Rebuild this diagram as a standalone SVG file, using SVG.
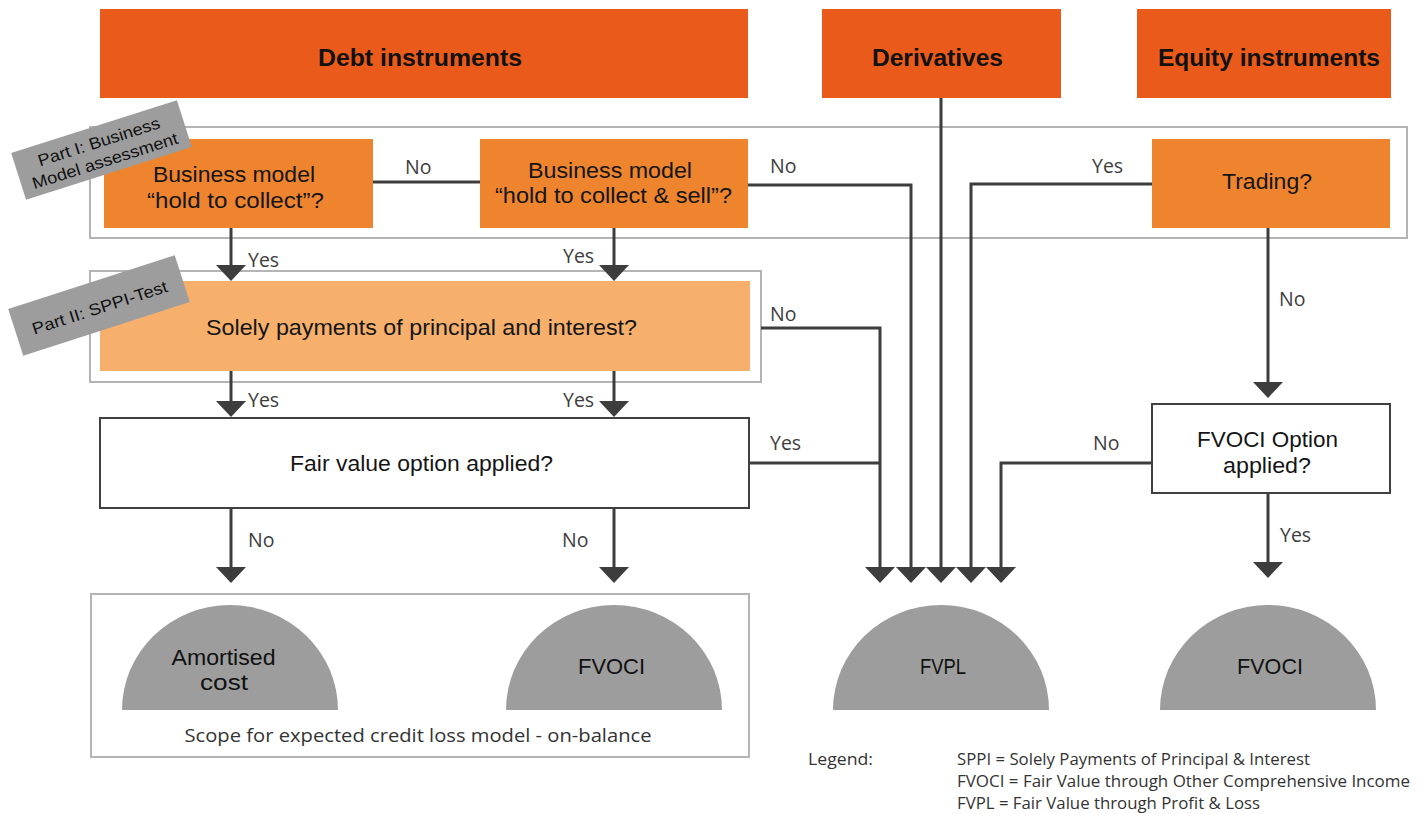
<svg xmlns="http://www.w3.org/2000/svg" width="1426" height="814" viewBox="0 0 1426 814">
  <style>
    .head { fill: #EA5B1B; }
    .head-t { font-family: "Liberation Sans", Arial, sans-serif; font-weight: bold; font-size: 24.5px; fill: #111; text-anchor: middle; }
    .q1 { fill: #EF842F; }
    .q2 { fill: #F7B06C; }
    .qw { fill: #fff; stroke: #404040; stroke-width: 2; }
    .box-t { font-family: "Liberation Sans", Arial, sans-serif; font-size: 22.5px; fill: #151515; text-anchor: middle; }
    .frame { fill: none; stroke: #b4b4b4; stroke-width: 2; }
    .tag { fill: #9d9d9d; }
    .tag-t { font-family: "Liberation Sans", Arial, sans-serif; font-size: 16.5px; fill: #111; text-anchor: middle; }
    .dome { fill: #9d9d9d; }
    .dome-t { font-family: "Liberation Sans", Arial, sans-serif; font-size: 22px; fill: #111; text-anchor: middle; }
    .wire { fill: none; stroke: #3d3d3d; stroke-width: 3; }
    .lbl { font-family: "Open Sans", "Liberation Sans", sans-serif; font-size: 19.5px; fill: #3d3d3d; }
    .note { font-family: "Open Sans", "Liberation Sans", sans-serif; fill: #333; }
  </style>

  <!-- assessment frames -->
  <g id="frames">
    <rect class="frame" x="90" y="127" width="1317" height="111"/>
    <rect class="frame" x="90" y="271" width="671" height="111"/>
    <rect class="frame" x="91" y="594" width="658" height="163"/>
  </g>

  <!-- connectors -->
  <g id="connectors">
    <line class="wire" x1="373" y1="182" x2="480" y2="182"/>
    <path class="wire" d="M231 228 V265"/>
    <path class="wire" d="M614 228 V265"/>
    <path class="wire" d="M748 185 H911 V567"/>
    <path class="wire" d="M941 98 V567"/>
    <path class="wire" d="M1152 184 H971 V567"/>
    <path class="wire" d="M761 328 H880 V567"/>
    <path class="wire" d="M749 463 H880"/>
    <path class="wire" d="M231 371 V401"/>
    <path class="wire" d="M614 371 V401"/>
    <path class="wire" d="M231 508 V567"/>
    <path class="wire" d="M614 508 V567"/>
    <path class="wire" d="M1268 228 V382"/>
    <path class="wire" d="M1152 463 H1001 V567"/>
    <path class="wire" d="M1268 493 V562"/>
    <!-- arrowheads -->
    <g fill="#3d3d3d">
      <path d="M216 265 H246 L231 281 Z"/>
      <path d="M599 265 H629 L614 281 Z"/>
      <path d="M216 401 H246 L231 417 Z"/>
      <path d="M599 401 H629 L614 417 Z"/>
      <path d="M216 567 H246 L231 583 Z"/>
      <path d="M599 567 H629 L614 583 Z"/>
      <path d="M865 567 H895 L880 583 Z"/>
      <path d="M896 567 H926 L911 583 Z"/>
      <path d="M926 567 H956 L941 583 Z"/>
      <path d="M956 567 H986 L971 583 Z"/>
      <path d="M986 567 H1016 L1001 583 Z"/>
      <path d="M1253 382 H1283 L1268 398 Z"/>
      <path d="M1253 562 H1283 L1268 578 Z"/>
    </g>
    <!-- branch labels -->
    <text class="lbl" x="405" y="174">No</text>
    <text class="lbl" x="248" y="267">Yes</text>
    <text class="lbl" x="563" y="263">Yes</text>
    <text class="lbl" x="770" y="173">No</text>
    <text class="lbl" x="1092" y="173">Yes</text>
    <text class="lbl" x="770" y="321">No</text>
    <text class="lbl" x="248" y="407">Yes</text>
    <text class="lbl" x="563" y="407">Yes</text>
    <text class="lbl" x="770" y="450">Yes</text>
    <text class="lbl" x="1279" y="306">No</text>
    <text class="lbl" x="1093" y="450">No</text>
    <text class="lbl" x="248" y="547">No</text>
    <text class="lbl" x="562" y="547">No</text>
    <text class="lbl" x="1280" y="542">Yes</text>
  </g>

  <!-- instrument headers -->
  <g id="debt">
    <rect class="head" x="100" y="9" width="648" height="89"/>
    <text class="head-t" x="420" y="66" textLength="204" lengthAdjust="spacingAndGlyphs">Debt instruments</text>
  </g>
  <g id="derivatives">
    <rect class="head" x="822" y="9" width="239" height="89"/>
    <text class="head-t" x="937.5" y="66" textLength="131" lengthAdjust="spacingAndGlyphs">Derivatives</text>
  </g>
  <g id="equity">
    <rect class="head" x="1137" y="9" width="254" height="89"/>
    <text class="head-t" x="1269" y="66" textLength="222" lengthAdjust="spacingAndGlyphs">Equity instruments</text>
  </g>

  <!-- decision boxes -->
  <g id="hold-to-collect">
    <rect class="q1" x="104" y="139" width="269" height="89"/>
    <text class="box-t" x="234" y="182" textLength="162" lengthAdjust="spacingAndGlyphs">Business model</text>
    <text class="box-t" x="235.5" y="208" textLength="177" lengthAdjust="spacingAndGlyphs">“hold to collect”?</text>
  </g>
  <g id="hold-to-collect-sell">
    <rect class="q1" x="480" y="139" width="268" height="89"/>
    <text class="box-t" x="610" y="178" textLength="164" lengthAdjust="spacingAndGlyphs">Business model</text>
    <text class="box-t" x="613.5" y="203" textLength="237" lengthAdjust="spacingAndGlyphs">“hold to collect &amp; sell”?</text>
  </g>
  <g id="trading">
    <rect class="q1" x="1152" y="139" width="238" height="89"/>
    <text class="box-t" x="1267" y="189" textLength="90" lengthAdjust="spacingAndGlyphs">Trading?</text>
  </g>
  <g id="sppi">
    <rect class="q2" x="100" y="281" width="650" height="90"/>
    <text class="box-t" x="421.5" y="335" textLength="431" lengthAdjust="spacingAndGlyphs">Solely payments of principal and interest?</text>
  </g>
  <g id="fair-value-option">
    <rect class="qw" x="100" y="418" width="649" height="90"/>
    <text class="box-t" x="421.5" y="471" textLength="263" lengthAdjust="spacingAndGlyphs">Fair value option applied?</text>
  </g>
  <g id="fvoci-option">
    <rect class="qw" x="1152" y="404" width="238" height="89"/>
    <text class="box-t" x="1267.5" y="447" textLength="141" lengthAdjust="spacingAndGlyphs">FVOCI Option</text>
    <text class="box-t" x="1267" y="473" textLength="88" lengthAdjust="spacingAndGlyphs">applied?</text>
  </g>

  <!-- part tags -->
  <g id="part-1">
    <g transform="translate(101.5 150) rotate(-17.7)">
      <rect class="tag" x="-87" y="-24.5" width="174" height="49"/>
      <text class="tag-t" x="0" y="-3" textLength="127" lengthAdjust="spacingAndGlyphs">Part I: Business</text>
      <text class="tag-t" x="0" y="17" textLength="152" lengthAdjust="spacingAndGlyphs">Model assessment</text>
    </g>
  </g>
  <g id="part-2">
    <g transform="translate(99 305.5) rotate(-17.9)">
      <rect class="tag" x="-87.5" y="-24.5" width="175" height="49"/>
      <text class="tag-t" x="0" y="8" textLength="141" lengthAdjust="spacingAndGlyphs">Part II: SPPI-Test</text>
    </g>
  </g>

  <!-- outcomes -->
  <g id="amortised-cost">
    <path class="dome" d="M122 710 A108 105 0 0 1 338 710 Z"/>
    <text class="dome-t" x="223.5" y="665" font-size="19" textLength="104" lengthAdjust="spacingAndGlyphs">Amortised</text>
    <text class="dome-t" x="224" y="689.5" font-size="19" textLength="48" lengthAdjust="spacingAndGlyphs">cost</text>
  </g>
  <g id="fvoci-debt">
    <path class="dome" d="M506 710 A108 105 0 0 1 722 710 Z"/>
    <text class="dome-t" x="611.5" y="674" textLength="67" lengthAdjust="spacingAndGlyphs">FVOCI</text>
  </g>
  <g id="fvpl">
    <path class="dome" d="M833 710 A108 105 0 0 1 1049 710 Z"/>
    <text class="dome-t" x="943" y="674" textLength="46" lengthAdjust="spacingAndGlyphs">FVPL</text>
  </g>
  <g id="fvoci-equity">
    <path class="dome" d="M1160 710 A108 105 0 0 1 1376 710 Z"/>
    <text class="dome-t" x="1270" y="674" textLength="66" lengthAdjust="spacingAndGlyphs">FVOCI</text>
  </g>

  <!-- scope caption and legend -->
  <g id="notes">
    <text class="note" x="418" y="742" font-size="18" text-anchor="middle" textLength="467" lengthAdjust="spacingAndGlyphs">Scope for expected credit loss model - on-balance</text>
    <text class="note" x="808" y="765" font-size="15.5" textLength="65" lengthAdjust="spacingAndGlyphs">Legend:</text>
    <text class="note" x="957" y="765" font-size="15.5" textLength="353" lengthAdjust="spacingAndGlyphs">SPPI = Solely Payments of Principal &amp; Interest</text>
    <text class="note" x="957" y="787" font-size="15.5" textLength="453" lengthAdjust="spacingAndGlyphs">FVOCI = Fair Value through Other Comprehensive Income</text>
    <text class="note" x="957" y="809" font-size="15.5" textLength="303" lengthAdjust="spacingAndGlyphs">FVPL = Fair Value through Profit &amp; Loss</text>
  </g>
</svg>
